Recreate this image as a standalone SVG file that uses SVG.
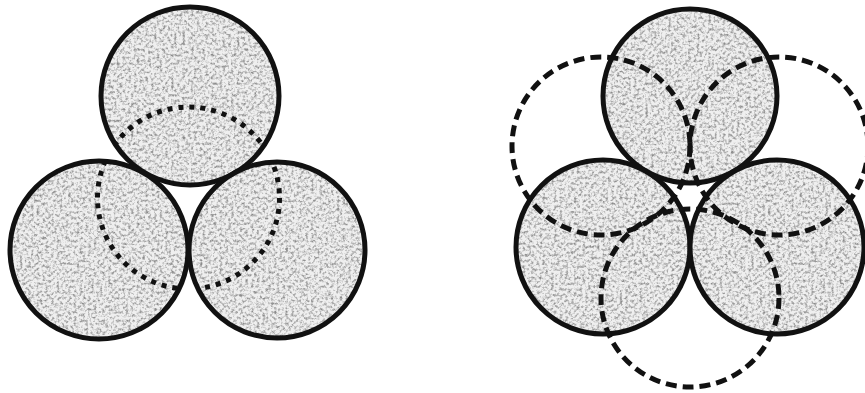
<svg xmlns="http://www.w3.org/2000/svg" width="865" height="393" viewBox="0 0 865 393">
  <style>
    .fill { fill: #efefef; filter: url(#grain); }
    .solid { fill: none; stroke: #111111; stroke-width: 5; }
    .dotted { fill: none; stroke: #111111; stroke-width: 5; stroke-dasharray: 5 6; }
    .dashed { fill: none; stroke: #111111; stroke-width: 5; stroke-dasharray: 11 6; }
  </style>
  <defs>
    <filter id="grain" x="0" y="0" width="100%" height="100%" color-interpolation-filters="sRGB">
      <feTurbulence type="fractalNoise" baseFrequency="0.35" numOctaves="3" seed="11" result="noise"/>
      <feColorMatrix in="noise" type="matrix" values="0 0 0 0 0.55  0 0 0 0 0.55  0 0 0 0 0.55  -2.6 0 0 0 1.45" result="spots"/>
      <feComposite in="spots" in2="SourceGraphic" operator="in" result="clipped"/>
      <feMerge><feMergeNode in="SourceGraphic"/><feMergeNode in="clipped"/></feMerge>
    </filter>
    <clipPath id="leftUnion">
      <circle cx="190" cy="96" r="89"/>
      <circle cx="99" cy="250" r="89"/>
      <circle cx="277" cy="250" r="88"/>
    </clipPath>
  </defs>
  <rect width="865" height="393" fill="#ffffff"/>

  <!-- Left figure -->
  <g id="left-top">
    <circle class="fill" cx="190" cy="96" r="89"/>
    <circle class="solid" cx="190" cy="96" r="89"/>
  </g>
  <g id="left-bottom-left">
    <circle class="fill" cx="99" cy="250" r="89"/>
    <circle class="solid" cx="99" cy="250" r="89"/>
  </g>
  <g id="left-bottom-right">
    <circle class="fill" cx="277" cy="250" r="88"/>
    <circle class="solid" cx="277" cy="250" r="88"/>
  </g>
  <g id="left-dotted" clip-path="url(#leftUnion)">
    <circle class="dotted" cx="188.5" cy="198" r="91"/>
  </g>

  <!-- Right figure -->
  <g id="right-top">
    <circle class="fill" cx="690" cy="96" r="87"/>
    <circle class="solid" cx="690" cy="96" r="87"/>
  </g>
  <g id="right-bottom-left">
    <circle class="fill" cx="603" cy="247" r="87"/>
    <circle class="solid" cx="603" cy="247" r="87"/>
  </g>
  <g id="right-bottom-right">
    <circle class="fill" cx="777" cy="247" r="87"/>
    <circle class="solid" cx="777" cy="247" r="87"/>
  </g>
  <g id="right-dashed">
    <circle class="dashed" cx="601" cy="146" r="89"/>
    <circle class="dashed" cx="779" cy="146" r="89"/>
    <circle class="dashed" cx="690" cy="298" r="89"/>
  </g>
</svg>
